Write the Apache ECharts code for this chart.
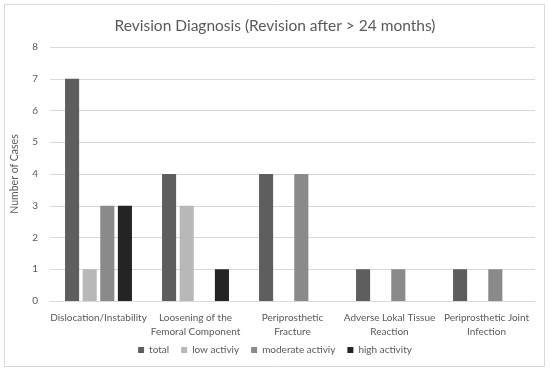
<!DOCTYPE html>
<html><head><meta charset="utf-8">
<script src="https://cdn.jsdelivr.net/npm/echarts@6/dist/echarts.min.js"></script>
<style>html,body{margin:0;padding:0;background:#fff}#c{width:550px;height:371px}</style>
</head><body><div id="c"></div>
<script>
const categories = ["Dislocation/Instability", "Loosening of the\nFemoral Component", "Periprosthetic\nFracture", "Adverse Lokal Tissue\nReaction", "Periprosthetic Joint\nInfection"];
const seriesNames = ["total", "low activiy", "moderate activiy", "high activity"];
const totalVals = [7, 4, 4, 1, 1];
const lowVals = [1, 3, 0, 0, 0];
const moderateVals = [3, 0, 4, 1, 1];
const highVals = [3, 1, 0, 0, 0];
const yTicks = [0, 1, 2, 3, 4, 5, 6, 7, 8];
const colors = ["#5e5e5e", "#b8b8b8", "#8a8a8a", "#242424"];
const font = "Lato";
const chart = echarts.init(document.getElementById('c'));
const vals = [totalVals, lowVals, moderateVals, highVals];
chart.setOption({
  animation: false,
  textStyle: {fontFamily: font},
  title: {text: "Revision Diagnosis (Revision after > 24 months)", left: 'center', top: 13,
    textStyle: {fontFamily: font, fontSize: 15.5, fontWeight: 'normal', color: '#595959'}},
  graphic: [{type: 'rect', shape: {x: 4.5, y: 4.5, width: 540, height: 362}, style: {fill: 'none', stroke: '#d9d9d9', lineWidth: 1}, silent: true}],
  legend: {bottom: 11, left: 'center', itemWidth: 6, itemHeight: 6, itemGap: 12, icon: 'rect',
    textStyle: {fontFamily: font, fontSize: 10, color: '#595959'}, data: seriesNames},
  grid: {left: 50, right: 15, top: 47, bottom: 70},
  xAxis: {type: 'category', data: categories,
    axisLine: {lineStyle: {color: '#d9d9d9'}}, axisTick: {show: false},
    axisLabel: {interval: 0, fontFamily: font, fontSize: 10, color: '#595959', lineHeight: 14, margin: 10}},
  yAxis: {type: 'value', min: yTicks[0], max: yTicks[yTicks.length - 1], interval: 1,
    name: "Number of Cases", nameLocation: 'middle', nameGap: 30,
    nameTextStyle: {fontFamily: font, fontSize: 10.5, color: '#595959'},
    axisLine: {show: false}, axisTick: {show: false},
    axisLabel: {fontFamily: font, fontSize: 10, color: '#595959', margin: 12},
    splitLine: {lineStyle: {color: '#d9d9d9'}}},
  series: seriesNames.map((n, i) => ({name: n, type: 'bar', data: vals[i],
    itemStyle: {color: colors[i]}, barGap: '25%', barCategoryGap: '31%'}))
});
</script></body></html>
